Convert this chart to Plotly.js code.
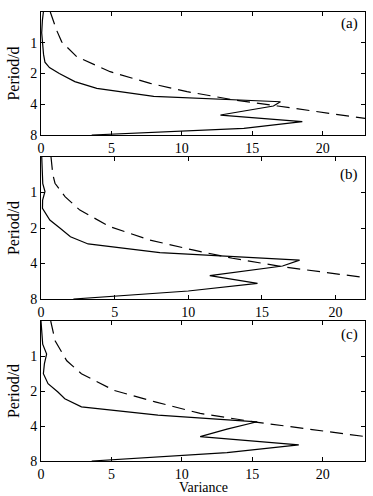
<!DOCTYPE html>
<html>
<head>
<meta charset="utf-8">
<script src="https://cdn.plot.ly/plotly-3.0.1.min.js"></script>
<style>html,body{margin:0;padding:0;background:#fff;}#chart{width:373px;height:496px;}</style>
</head>
<body>
<div id="chart"></div>
<script>
// Panel (a)
const periodSolidA = [0.5, 0.6, 0.8, 1.0, 1.3, 1.55, 1.75, 2.0, 2.4, 2.8, 3.35, 3.78, 4.16, 5.1, 5.93, 6.88, 8.0];
const varianceSolidA = [0.17, 0.1, 0.05, 0.1, 0.18, 0.28, 0.6, 1.3, 2.4, 3.96, 8.0, 17.0, 16.5, 12.74, 18.55, 14.4, 3.6];
const periodDashA = [0.5, 0.6, 0.75, 0.98, 1.37, 1.92, 2.5, 3.01, 3.63, 4.16, 5.5];
const varianceDashA = [0.66, 0.85, 1.1, 1.47, 2.54, 4.91, 7.76, 10.37, 13.7, 16.8, 23.0];
// Panel (b)
const periodSolidB = [0.5, 0.7, 0.84, 0.98, 1.16, 1.36, 1.71, 2.01, 2.37, 2.73, 3.24, 3.74, 4.2, 5.07, 5.9, 6.84, 8.0];
const varianceSolidB = [0.05, 0.07, 0.12, 0.27, 0.11, 0.1, 0.6, 1.3, 2.0, 3.2, 8.07, 17.56, 16.4, 11.46, 14.7, 10.0, 2.2];
const periodDashB = [0.5, 0.7, 0.835, 1.085, 1.41, 1.95, 2.53, 3.07, 3.61, 4.26, 5.24];
const varianceDashB = [0.68, 0.8, 0.95, 1.63, 2.64, 4.68, 7.39, 10.3, 13.0, 16.4, 21.85];
// Panel (c)
const periodSolidC = [0.5, 0.79, 0.96, 1.17, 1.42, 1.73, 2.04, 2.33, 2.74, 3.23, 3.68, 4.25, 4.93, 5.82, 6.77, 8.0];
const varianceSolidC = [0.0, 0.12, 0.4, 0.24, 0.17, 0.5, 1.2, 1.69, 2.87, 8.3, 15.35, 13.2, 11.3, 18.3, 13.2, 3.6];
const periodDashC = [0.5, 0.74, 1.1, 1.42, 1.98, 2.48, 3.12, 3.68, 4.93];
const varianceDashC = [0.69, 1.0, 1.83, 2.87, 5.2, 8.1, 11.3, 15.1, 23.0];

const periodTicks = [1, 2, 4, 8];
const periodTickText = ['1', '2', '4', '8'];
const varianceTicks = [0, 5, 10, 15, 20];
const panelLabels = ['(a)', '(b)', '(c)'];
const xTitle = 'Variance';
const yTitle = 'Period/d';

const W = 373, H = 496;
const FONT = 'Liberation Serif, Times New Roman, serif';
const solidLine = {color: '#000', width: 1.2};
const dashLine = {color: '#000', width: 1.2, dash: '13px,7px'};

function tr(x, y, line, ax) {
  return {x: x, y: y, type: 'scatter', mode: 'lines', line: line,
          xaxis: 'x' + ax, yaxis: 'y' + ax, hoverinfo: 'skip', showlegend: false};
}
const data = [
  tr(varianceSolidA, periodSolidA, solidLine, ''),
  tr(varianceDashA, periodDashA, dashLine, ''),
  tr(varianceSolidB, periodSolidB, solidLine, '2'),
  tr(varianceDashB, periodDashB, dashLine, '2'),
  tr(varianceSolidC, periodSolidC, solidLine, '3'),
  tr(varianceDashC, periodDashC, dashLine, '3')
];

// panel pixel boxes [top, bottom]
const boxes = [[12, 135], [157, 299], [321, 461]];
const xMax = [23, 22, 23];
const xDom = [41 / W, 365 / W];

function xa(i) {
  return {
    domain: xDom, range: [0, xMax[i]], tickvals: varianceTicks,
    ticks: 'inside', ticklen: 4, tickcolor: '#000', showline: true, linecolor: '#000', linewidth: 1,
    mirror: 'ticks', showgrid: false, zeroline: false,
    tickfont: {family: FONT, size: 14, color: '#000'},
    anchor: i === 0 ? 'y' : 'y' + (i + 1), fixedrange: true
  };
}
function ya(i) {
  const b = boxes[i];
  return {
    domain: [1 - b[1] / H, 1 - b[0] / H], type: 'log',
    range: [Math.log10(8), Math.log10(0.5)], tickvals: periodTicks, ticktext: periodTickText,
    ticks: 'inside', ticklen: 4, tickcolor: '#000', showline: true, linecolor: '#000', linewidth: 1,
    mirror: 'ticks', showgrid: false, zeroline: false,
    tickfont: {family: FONT, size: 14, color: '#000'},
    title: {text: yTitle, font: {family: FONT, size: 16, color: '#000'}, standoff: 6},
    anchor: i === 0 ? 'x' : 'x' + (i + 1), fixedrange: true
  };
}
const labelY = [23.5, 175, 334];
const annotations = panelLabels.map((t, i) => ({
  text: t, xref: 'paper', yref: 'paper', x: 360 / W, y: 1 - labelY[i] / H,
  xanchor: 'right', yanchor: 'middle', showarrow: false,
  font: {family: FONT, size: 15, color: '#000'}
}));
annotations.push({
  text: xTitle, xref: 'paper', yref: 'paper', x: 203 / W, y: 0,
  xanchor: 'center', yanchor: 'bottom', showarrow: false, borderpad: 0,
  font: {family: FONT, size: 14, color: '#000'}
});

const layout = {
  width: W, height: H, margin: {l: 0, r: 0, t: 0, b: 0},
  paper_bgcolor: '#fff', plot_bgcolor: '#fff', showlegend: false,
  xaxis: xa(0), xaxis2: xa(1), xaxis3: xa(2),
  yaxis: ya(0), yaxis2: ya(1), yaxis3: ya(2),
  annotations: annotations
};
Plotly.newPlot('chart', data, layout, {staticPlot: true, displayModeBar: false});
</script>
</body>
</html>
